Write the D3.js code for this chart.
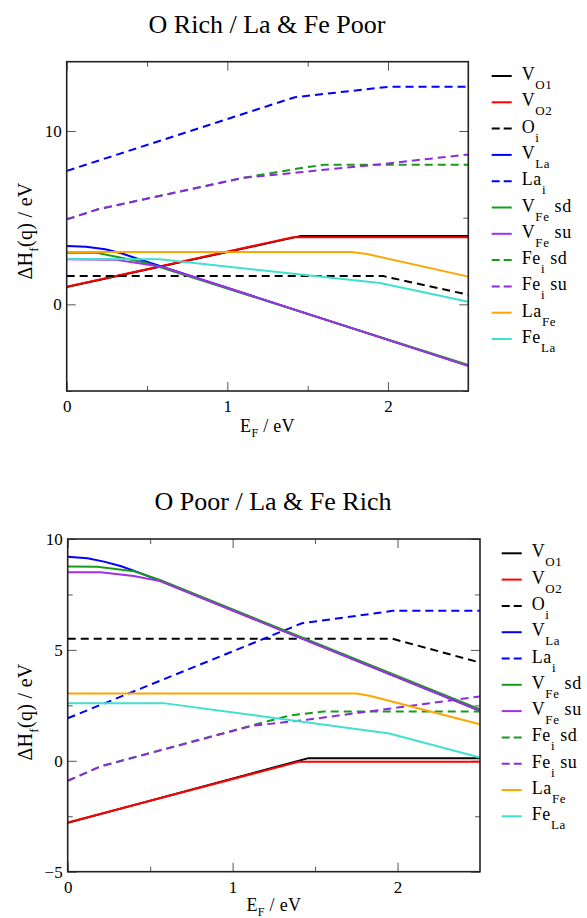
<!DOCTYPE html>
<html>
<head>
<meta charset="utf-8">
<script src="https://cdn.jsdelivr.net/npm/d3@7"></script>
<style>
  body { margin: 0; background: #fff; }
</style>
</head>
<body>
<svg id="chart" width="587" height="918"></svg>
<script>
// legend labels, in plotting order
const legendBase = ["V", "V", "O", "V", "La", "V", "V", "Fe", "Fe", "La", "Fe"]
const legendSub  = ["O1", "O2", "i", "La", "i", "Fe", "Fe", "i", "i", "Fe", "La"]
const legendTail = ["", "", "", "", "", " sd", " su", " sd", " su", "", ""]

// ticks
const xTicks = [0, 1, 2]
const xMinor = [0.5, 1.5]
const richYTicks = [0, 10]
const richYMinor = [-5, 5]
const poorYTicks = [-5, 0, 5, 10]
const poorYMinor = [-2.5, 2.5, 7.5]

// O rich / La & Fe poor  -- [E_F, dH]
const richVO1   = [[0, 1.0], [1.46, 3.95], [2.5, 3.95]]
const richVO2   = [[0, 1.02], [1.41, 3.87], [2.5, 3.87]]
const richOi    = [[0, 1.63], [1.97, 1.63], [2.5, 0.55]]
const richVLa   = [[0, 3.36], [0.12, 3.32], [0.24, 3.18], [0.34, 2.95], [0.45, 2.6], [2.5, -3.55]]
const richLai   = [[0, 7.7], [1.42, 11.95], [2.0, 12.55], [2.5, 12.55]]
const richVFeSd = [[0, 2.98], [0.19, 2.97], [0.5, 2.38], [2.5, -3.5]]
const richVFeSu = [[0, 2.6], [0.3, 2.58], [0.6, 2.15], [2.5, -3.55]]
const richFeiSd = [[0, 4.9], [0.2, 5.5], [1.1, 7.3], [1.45, 7.85], [1.6, 8.05], [2.5, 8.05]]
const richFeiSu = [[0, 4.9], [0.2, 5.5], [1.1, 7.3], [1.45, 7.62], [2.0, 8.13], [2.5, 8.65]]
const richLaFe  = [[0, 3.02], [1.77, 3.02], [1.87, 2.9], [2.5, 1.6]]
const richFeLa  = [[0, 2.62], [0.58, 2.6], [1.95, 1.23], [2.5, 0.15]]

// O poor / La & Fe rich
const poorVO1   = [[0, -2.8], [1.46, 0.12], [2.5, 0.12]]
const poorVO2   = [[0, -2.78], [1.4, -0.04], [2.5, -0.04]]
const poorOi    = [[0, 5.5], [1.97, 5.5], [2.5, 4.43]]
const poorVLa   = [[0, 9.2], [0.12, 9.13], [0.22, 8.98], [0.32, 8.78], [0.42, 8.52], [0.56, 8.12], [2.5, 2.25]]
const poorLai   = [[0, 1.92], [1.42, 6.2], [1.97, 6.76], [2.5, 6.76]]
const poorVFeSd = [[0, 8.76], [0.18, 8.75], [0.4, 8.55], [0.56, 8.15], [2.5, 2.32]]
const poorVFeSu = [[0, 8.5], [0.2, 8.5], [0.4, 8.33], [0.56, 8.1], [2.5, 2.25]]
const poorFeiSd = [[0, -0.9], [0.2, -0.25], [1.12, 1.6], [1.35, 2.05], [1.55, 2.22], [2.5, 2.22]]
const poorFeiSu = [[0, -0.9], [0.2, -0.25], [1.12, 1.58], [1.45, 1.85], [2.0, 2.4], [2.5, 2.9]]
const poorLaFe  = [[0, 3.03], [1.75, 3.03], [1.83, 2.93], [2.5, 1.65]]
const poorFeLa  = [[0, 2.6], [0.58, 2.6], [1.95, 1.23], [2.5, 0.15]]

// line styles (same order as legend)
const colors = ["#000000", "#ff0000", "#000000", "#0000ff", "#0000ff", "#1a9a1a",
                "#a030e8", "#1a9a1a", "#8a2be2", "#ffa500", "#40e0d0"]
const dashed = [false, false, true, false, true, false, false, true, true, false, false]

const serif = "'Liberation Serif', 'Times New Roman', Times, serif"

const svg = d3.select("#chart")

function panel(opt) {
	const x = d3.scaleLinear().domain([0, 2.5]).range([opt.left, opt.right])
	const y = d3.scaleLinear().domain(opt.yDomain).range([opt.bottom, opt.top])
	const g = svg.append("g")

	// title
	g.append("text")
		.attr("x", opt.titleX).attr("y", opt.titleY)
		.attr("text-anchor", "middle")
		.style("font-size", "26px")
		.text(opt.title)

	// ticks, pointing inward on all four sides
	const tickFont = a => a.attr("font-family", null).attr("font-size", null)
		.selectAll("text").style("font-size", "17px").style("fill", "#000")
	const clean = a => a.select(".domain").remove()

	g.append("g").attr("transform", "translate(0," + opt.bottom + ")")
		.call(d3.axisBottom(x).tickValues(xTicks).tickFormat(d3.format("d")).tickSize(-9).tickSizeOuter(0).tickPadding(9))
		.call(clean).call(tickFont)
	g.append("g").attr("transform", "translate(0," + opt.bottom + ")")
		.call(d3.axisBottom(x).tickValues(xMinor).tickFormat("").tickSize(-5).tickSizeOuter(0))
		.call(clean)
	g.append("g").attr("transform", "translate(0," + opt.top + ")")
		.call(d3.axisTop(x).tickValues(xTicks).tickFormat("").tickSize(-9).tickSizeOuter(0))
		.call(clean)
	g.append("g").attr("transform", "translate(0," + opt.top + ")")
		.call(d3.axisTop(x).tickValues(xMinor).tickFormat("").tickSize(-5).tickSizeOuter(0))
		.call(clean)

	g.append("g").attr("transform", "translate(" + opt.left + ",0)")
		.call(d3.axisLeft(y).tickValues(opt.yTicks).tickFormat(d3.format("d")).tickSize(-9).tickSizeOuter(0).tickPadding(5))
		.call(clean).call(tickFont)
	g.append("g").attr("transform", "translate(" + opt.left + ",0)")
		.call(d3.axisLeft(y).tickValues(opt.yMinor).tickFormat("").tickSize(-5).tickSizeOuter(0))
		.call(clean)
	g.append("g").attr("transform", "translate(" + opt.right + ",0)")
		.call(d3.axisRight(y).tickValues(opt.yTicks).tickFormat("").tickSize(-9).tickSizeOuter(0))
		.call(clean)
	g.append("g").attr("transform", "translate(" + opt.right + ",0)")
		.call(d3.axisRight(y).tickValues(opt.yMinor).tickFormat("").tickSize(-5).tickSizeOuter(0))
		.call(clean)
	g.selectAll(".tick line").attr("stroke", "#555").attr("stroke-width", 1)

	// curves
	const clipId = "clip" + opt.id
	svg.append("clipPath").attr("id", clipId)
		.append("rect")
		.attr("x", opt.left).attr("y", opt.top)
		.attr("width", opt.right - opt.left).attr("height", opt.bottom - opt.top)

	const line = d3.line().x(d => x(d[0])).y(d => y(d[1]))
	g.append("g").attr("clip-path", "url(#" + clipId + ")")
		.selectAll("path")
		.data(opt.series)
		.enter()
		.append("path")
		.attr("d", line)
		.attr("fill", "none")
		.attr("stroke", (d, i) => colors[i])
		.attr("stroke-width", 2)
		.attr("stroke-linejoin", "round")
		.attr("stroke-dasharray", (d, i) => dashed[i] ? "8,5" : null)

	// frame
	g.append("rect")
		.attr("x", opt.left).attr("y", opt.top)
		.attr("width", opt.right - opt.left).attr("height", opt.bottom - opt.top)
		.attr("fill", "none").attr("stroke", "#222").attr("stroke-width", 1.6)

	// X label
	const xl = g.append("text")
		.attr("x", (opt.left + opt.right) / 2).attr("y", opt.bottom + opt.xLabelDy)
		.attr("text-anchor", "middle")
		.style("font-size", "18px")
		.style("letter-spacing", "0.3px")
	xl.append("tspan").text("E")
	xl.append("tspan").style("font-size", "12px").attr("dy", 5).text("F")
	xl.append("tspan").attr("dy", -5).text(" / eV")

	// Y label
	const yl = g.append("text")
		.attr("transform", "translate(32," + opt.yLabelY + ") rotate(-90)")
		.attr("text-anchor", "middle")
		.style("font-size", "20px")
		.style("letter-spacing", "0.3px")
	yl.append("tspan").text("\u0394H")
	yl.append("tspan").style("font-size", "13px").attr("dy", 6).text("f")
	yl.append("tspan").attr("dy", -6).text("(q) / eV")

	// legend
	const leg = g.append("g")
		.selectAll("g")
		.data(legendBase)
		.enter()
		.append("g")
		.attr("transform", (d, i) => "translate(" + opt.legendX + "," + (opt.legendY + i * 26.3) + ")")
	leg.append("line")
		.attr("x1", 0).attr("x2", 20)
		.attr("stroke", (d, i) => colors[i])
		.attr("stroke-width", 2)
		.attr("stroke-dasharray", (d, i) => dashed[i] ? "8,4" : null)
	const lt = leg.append("text")
		.attr("x", 30).attr("y", 4)
		.style("font-size", "18px")
		.style("letter-spacing", "0.6px")
	lt.append("tspan").text(d => d)
	lt.append("tspan").style("font-size", "13px").attr("dy", 9).text((d, i) => legendSub[i])
	lt.append("tspan").attr("dy", -9).text((d, i) => legendTail[i])
}

panel({
	id: "rich", title: "O Rich / La & Fe Poor", titleX: 267, titleY: 33,
	left: 66.7, right: 468.3, top: 61.7, bottom: 391,
	yDomain: [-5, 14], yTicks: richYTicks, yMinor: richYMinor, yLabelY: 231,
	xLabelDy: 41, legendX: 491.7, legendY: 76,
	series: [richVO1, richVO2, richOi, richVLa, richLai, richVFeSd, richVFeSu,
	         richFeiSd, richFeiSu, richLaFe, richFeLa]
})

panel({
	id: "poor", title: "O Poor / La & Fe Rich", titleX: 273, titleY: 510,
	left: 67.7, right: 480, top: 539, bottom: 871.7,
	yDomain: [-5, 10], yTicks: poorYTicks, yMinor: poorYMinor, yLabelY: 712,
	xLabelDy: 39, legendX: 501.7, legendY: 553.3,
	series: [poorVO1, poorVO2, poorOi, poorVLa, poorLai, poorVFeSd, poorVFeSu,
	         poorFeiSd, poorFeiSu, poorLaFe, poorFeLa]
})

svg.selectAll("text").style("font-family", serif).style("fill", "#000")
</script>
</body>
</html>
